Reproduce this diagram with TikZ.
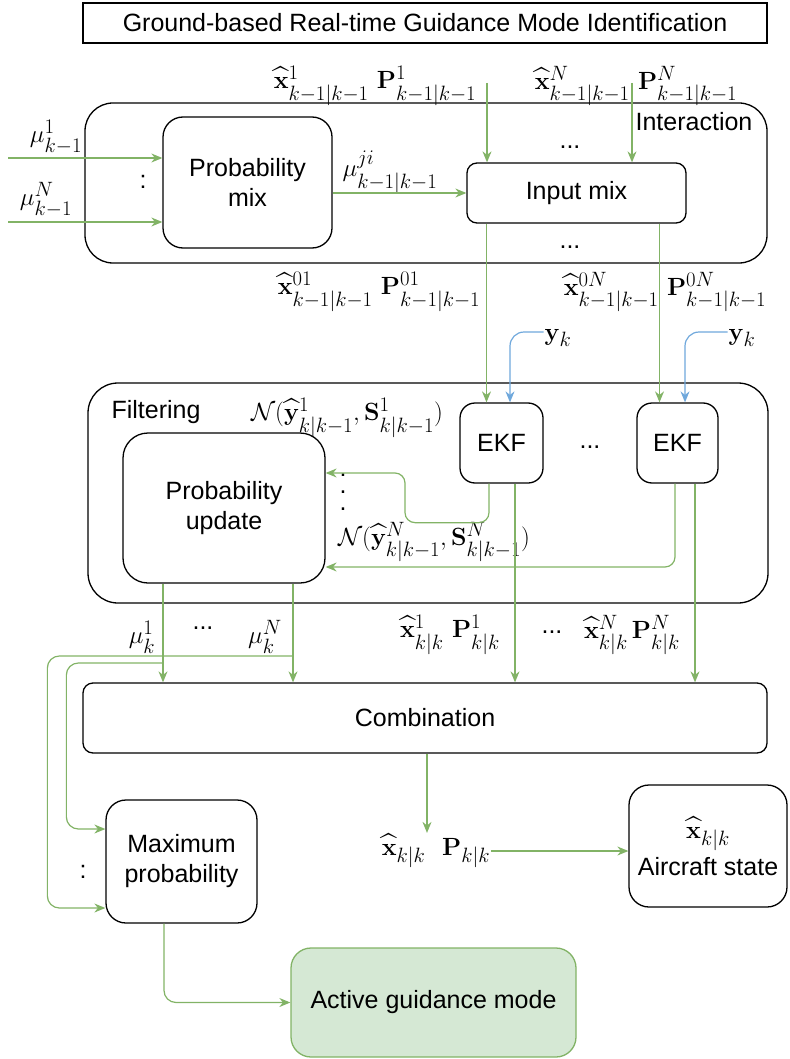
\documentclass[tikz,border=0pt]{standalone}
\usepackage{amsmath, amssymb}
\usepackage[no-math]{fontspec}
\setmainfont{Liberation Sans}
\usepackage{xcolor}
\usetikzlibrary{arrows.meta, positioning, shapes}

\definecolor{flowgreen}{HTML}{82B366}
\definecolor{obsblue}{HTML}{6FA8DC}
\definecolor{modefill}{HTML}{D5E8D4}

\begin{document}
\begin{tikzpicture}[x=1pt, y=-1pt, >={Stealth[length=11pt, width=9pt]},
    font=\fontsize{25}{30}\selectfont,
    box/.style={draw, line width=1.3pt, rounded corners=#1, align=center, inner sep=0pt},
    box/.default=18pt,
    mlbl/.style={font=\fontsize{30}{36}\selectfont, inner sep=1pt},
    flow/.style={->, draw=flowgreen, line width=1.2pt},
    obs/.style={->, draw=obsblue, line width=1.2pt, rounded corners=14pt}]
    \useasboundingbox (0,0) rectangle (789,1059);

    \node[draw, line width=1.3pt, minimum width=684pt, minimum height=40pt] (title) at (425,23) {Ground-based Real-time Guidance Mode Identification};

    % Interaction
    \node[box=28pt, minimum width=682pt, minimum height=160pt] (interaction) at (426,183) {};
    \node (interlbl) at (694,122) {Interaction};
    \node[box=20pt, minimum width=169pt, minimum height=131pt] (probmix) at (247.5,182.5) {Probability\\mix};
    \node[box=10pt, minimum width=219pt, minimum height=60pt] (inputmix) at (576.5,193) {Input mix};

    \node[mlbl] (xin1) at (375,86) {$\widehat{\mathbf{x}}^1_{k-1|k-1}\ \mathbf{P}^1_{k-1|k-1}$};
    \node[mlbl] (xinN) at (636,86) {$\widehat{\mathbf{x}}^N_{k-1|k-1}\ \mathbf{P}^N_{k-1|k-1}$};
    \node[mlbl] (mu1) at (56,137) {$\mu^1_{k-1}$};
    \node[mlbl] (muN) at (46,200) {$\mu^N_{k-1}$};
    \node (indots) at (143,182) {:};
    \node[mlbl] (muji) at (390,172) {$\mu^{ji}_{k-1|k-1}$};
    \node (topdots) at (570,147) {...};
    \node (botdots) at (570,247) {...};
    \node[mlbl] (x01) at (379,292) {$\widehat{\mathbf{x}}^{01}_{k-1|k-1}\ \mathbf{P}^{01}_{k-1|k-1}$};
    \node[mlbl] (x0N) at (665,292) {$\widehat{\mathbf{x}}^{0N}_{k-1|k-1}\ \mathbf{P}^{0N}_{k-1|k-1}$};
    \node[mlbl] (yk1) at (558,338) {$\mathbf{y}_k$};
    \node[mlbl] (yk2) at (742,338) {$\mathbf{y}_k$};

    % Filtering
    \node[box=30pt, minimum width=680pt, minimum height=220pt] (filtering) at (428,493) {};
    \node (filtlbl) at (156,412) {Filtering};
    \node[box=25pt, minimum width=202pt, minimum height=150pt] (probupd) at (224,508) {Probability\\update};
    \node[box=15pt, minimum width=83pt, minimum height=80pt] (ekf1) at (501.5,443) {EKF};
    \node[box=15pt, minimum width=81pt, minimum height=80pt] (ekf2) at (677.5,443) {EKF};
    \node (ekfdots) at (590,447) {...};
    \node[mlbl] (n1) at (347,418) {$\mathcal{N}(\widehat{\mathbf{y}}^1_{k|k-1},\mathbf{S}^1_{k|k-1})$};
    \node[align=center, font=\fontsize{25}{17}\selectfont, inner sep=0pt] (nvdots) at (343,492) {.\\.\\.};
    \node[mlbl] (nN) at (434,542) {$\mathcal{N}(\widehat{\mathbf{y}}^N_{k|k-1},\mathbf{S}^N_{k|k-1})$};

    \node[mlbl] (mu1k) at (142,637) {$\mu^1_k$};
    \node (mudots) at (203,628) {...};
    \node[mlbl] (muNk) at (265,637) {$\mu^N_k$};
    \node[mlbl] (xk1) at (450,635) {$\widehat{\mathbf{x}}^1_{k|k}\ \mathbf{P}^1_{k|k}$};
    \node (xkdots) at (552,632) {...};
    \node[mlbl] (xkN) at (632,635) {$\widehat{\mathbf{x}}^N_{k|k}\,\mathbf{P}^N_{k|k}$};

    % Combination and outputs
    \node[box=10pt, minimum width=684pt, minimum height=70pt] (combination) at (425,718) {Combination};
    \node[box=20pt, minimum width=151pt, minimum height=123pt] (maxprob) at (181.5,861.5) {Maximum\\probability};
    \node (mpdots) at (83,872) {:};
    \node[mlbl] (xk) at (436,851) {$\widehat{\mathbf{x}}_{k|k}\ \ \mathbf{P}_{k|k}$};
    \node[box=20pt, minimum width=158pt, minimum height=122pt] (aircraft) at (708,846) {{\fontsize{30}{36}\selectfont$\widehat{\mathbf{x}}_{k|k}$}\\[6pt]Aircraft state};
    \node[box=20pt, fill=modefill, draw=flowgreen, minimum width=285pt, minimum height=109pt] (active) at (433.5,1002.5) {Active guidance mode};

    \coordinate (in1) at (8,158);
    \coordinate (inN) at (8,222);
    \coordinate (top1) at (487,83);
    \coordinate (top2) at (632,83);
    \coordinate (br1) at (163,663);
    \coordinate (br2) at (293,656);

    \draw[flow] (in1) -- (in1 -| probmix.west);
    \draw[flow] (inN) -- (inN -| probmix.west);
    \draw[flow] (probmix.east |- inputmix.west) -- (inputmix.west);
    \draw[flow] (top1) -- (top1 |- inputmix.north);
    \draw[flow] (top2) -- (top2 |- inputmix.north);
    \draw[flow] ([xshift=-15pt]ekf1.north |- inputmix.south) -- ([xshift=-15pt]ekf1.north);
    \draw[flow] ([xshift=-18pt]ekf2.north |- inputmix.south) -- ([xshift=-18pt]ekf2.north);
    \draw[obs] ([yshift=6pt]yk1.west) -| ([xshift=8.5pt]ekf1.north);
    \draw[obs] ([yshift=6pt]yk2.west) -| ([xshift=7.5pt]ekf2.north);

    \draw[flow, rounded corners=10pt] ([xshift=-12.5pt]ekf1.south) |- ++(-84,39) |- ([yshift=35pt]probupd.east);
    \draw[flow, rounded corners=10pt] ([xshift=-2.5pt]ekf2.south) |- ([yshift=-59pt]probupd.east);
    \draw[flow] ([xshift=13.5pt]ekf1.south) -- ([xshift=13.5pt]ekf1.south |- combination.north);
    \draw[flow] ([xshift=17.5pt]ekf2.south) -- ([xshift=17.5pt]ekf2.south |- combination.north);
    \draw[flow] ([xshift=-61pt]probupd.south) -- ([xshift=-61pt]probupd.south |- combination.north);
    \draw[flow] ([xshift=69pt]probupd.south) -- ([xshift=69pt]probupd.south |- combination.north);

    \draw[flow, rounded corners=12pt] (br1) -| ([xshift=-39pt, yshift=32.5pt]maxprob.west) -- ([yshift=32.5pt]maxprob.west);
    \draw[flow, rounded corners=12pt] (br2) -| ([xshift=-58pt, yshift=-46.5pt]maxprob.west) -- ([yshift=-46.5pt]maxprob.west);
    \draw[flow] ([xshift=2pt]combination.south) -- ([xshift=2pt]combination.south |- xk.north);
    \draw[flow] (xk.east) -- (xk.east -| aircraft.west);
    \draw[flow, rounded corners=12pt] ([xshift=-17.5pt]maxprob.south) |- (active.west);
\end{tikzpicture}
\end{document}
